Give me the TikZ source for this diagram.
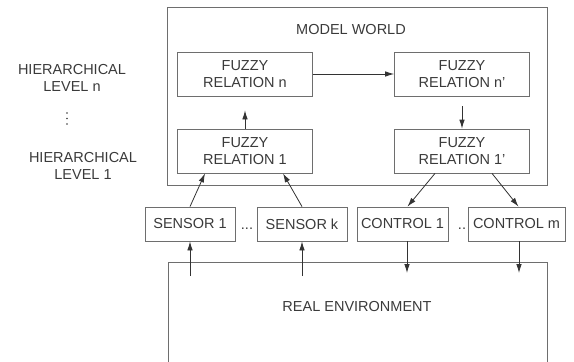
\documentclass[tikz,border=0pt]{standalone}
\usepackage{fontspec}
\setmainfont{Liberation Sans}
\usetikzlibrary{arrows.meta}
\definecolor{frameline}{HTML}{6E6E6E}
\definecolor{arrowink}{HTML}{333333}
\definecolor{labelink}{HTML}{3A3A3A}

\begin{document}
\begin{tikzpicture}[x=1pt,y=-1pt,
    font=\fontsize{14.5}{17}\selectfont, text=labelink,
    relbox/.style={draw=frameline,line width=0.8pt,minimum width=135pt,minimum height=44pt,align=center,inner sep=0pt},
    iobox/.style={draw=frameline,line width=0.8pt,minimum height=34pt,inner sep=0pt},
    flow/.style={arrowink,line width=0.8pt,-{Latex[length=9pt,width=5.5pt]}}]
  \useasboundingbox (0,0) rectangle (574,362);
  % model world frame
  \node[draw=frameline,line width=0.8pt,minimum width=380pt,minimum height=178pt,inner sep=0pt] (world) at (357,96) {};
  \node (worldlab) at (351,30) {MODEL WORLD};
  % hierarchy labels
  \node[align=center] (lvln) at (72,78) {HIERARCHICAL\\LEVEL n};
  \foreach \yy in {113,118.5,124}
    \fill[labelink] (67,\yy) circle (0.9pt);
  \node[align=center] (lvl1) at (83,166) {HIERARCHICAL\\LEVEL 1};
  % fuzzy relations
  \node[relbox] (reln)  at (245,74)  {FUZZY\\RELATION n};
  \node[relbox] (relnp) at (462,74)  {FUZZY\\RELATION n'};
  \node[relbox] (rel1)  at (245,151) {FUZZY\\RELATION 1};
  \node[relbox] (rel1p) at (462,151) {FUZZY\\RELATION 1'};
  \draw[flow] (reln.east) -- (relnp.west);
  \draw[flow,shorten >=14pt] (rel1.north) -- (reln.south);
  \draw[flow,shorten <=10pt] (relnp.south) -- (rel1p.north);
  % sensors and controls
  \foreach \nm/\xx/\bw/\lab in {sensor1/190/90/SENSOR 1, sensork/302/90/SENSOR k,
                                control1/402.5/91/CONTROL 1, controlm/516.5/97/CONTROL m}
    \node[iobox,minimum width=\bw pt] (\nm) at (\xx,224) {\lab};
  \node[anchor=base] (sdots) at (247,229) {...};
  \node[anchor=base] (cdots) at (462,229) {..};
  \draw[flow] (sensor1.north) -- ([xshift=-40pt]rel1.south);
  \draw[flow] (sensork.north) -- ([xshift=38pt]rel1.south);
  \draw[flow] ([xshift=-27pt]rel1p.south) -- ([xshift=5pt]control1.north);
  \draw[flow] ([xshift=30pt]rel1p.south) -- ([xshift=2pt]controlm.north);
  % real environment (open at the bottom)
  \draw[frameline,line width=0.8pt] (168,375) -- (168,262) -- (547,262) -- (547,375);
  \node (envlab) at (357,307) {REAL ENVIRONMENT};
  \coordinate (envs1) at (190,276);
  \coordinate (envsk) at (302,276);
  \coordinate (envc1) at (407,273);
  \coordinate (envcm) at (519,273);
  \draw[flow] (envs1) -- (sensor1.south);
  \draw[flow] (envsk) -- (sensork.south);
  \draw[flow] ([xshift=4.5pt]control1.south) -- (envc1);
  \draw[flow] ([xshift=2.5pt]controlm.south) -- (envcm);
\end{tikzpicture}
\end{document}
